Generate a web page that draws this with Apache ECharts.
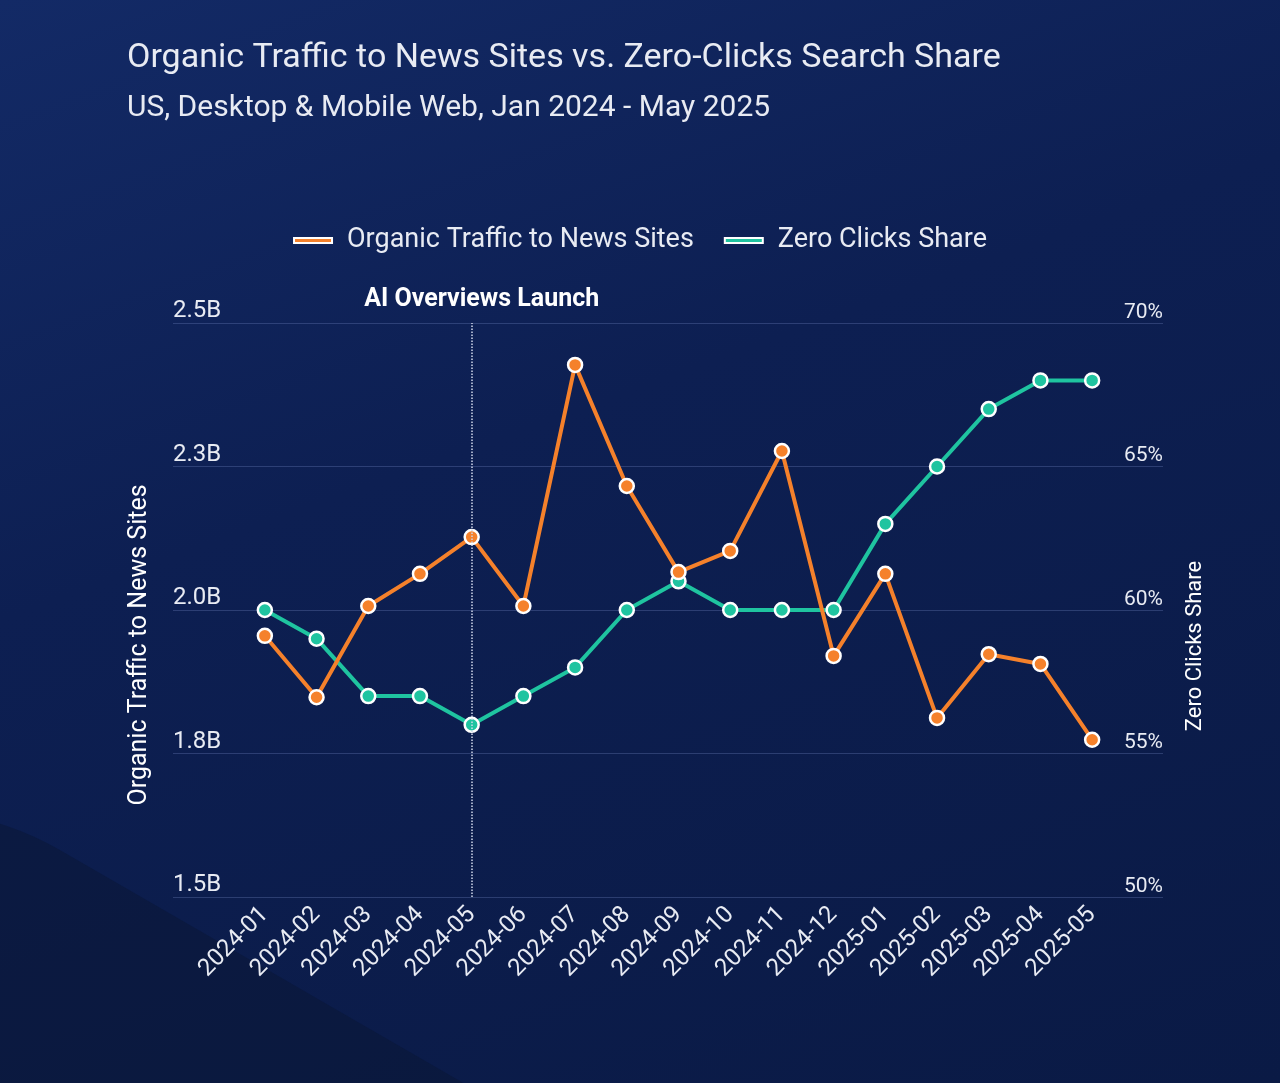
<!DOCTYPE html>
<html><head><meta charset="utf-8">
<script src="https://cdn.jsdelivr.net/npm/echarts@6/dist/echarts.min.js"></script>
<style>
html,body{margin:0;padding:0;}
body{width:1280px;height:1083px;background:linear-gradient(160deg,#132a66 0%,#0d1f52 40%,#0a1a45 100%);position:relative;overflow:hidden;}
#shade{position:absolute;left:-200px;top:700px;width:1000px;height:900px;background:#0a1533;transform:rotate(30deg);transform-origin:0 0;opacity:0.5;border-radius:300px 0 0 0;}
#c{position:absolute;left:0;top:0;width:1280px;height:1083px;}
</style></head><body>
<div id="shade"></div>
<div id="c"></div>
<script>
const categories=['2024-01','2024-02','2024-03','2024-04','2024-05','2024-06','2024-07','2024-08','2024-09','2024-10','2024-11','2024-12','2025-01','2025-02','2025-03','2025-04','2025-05'];
const organicTraffic=[1.955,1.848,2.007,2.063,2.127,2.007,2.427,2.216,2.066,2.103,2.277,1.92,2.063,1.812,1.923,1.906,1.774];
const zeroClicks=[60,59,57,57,56,57,58,60,61,60,60,60,63,65,67,68,68];
const launchMonth='2024-05';
const ORANGE='#f5812b',GREEN='#1fc4a0',TXT='#e8ebf3',FONT='Roboto';
const chart=echarts.init(document.getElementById('c'),null,{renderer:'canvas'});
const sym={symbol:'circle',symbolSize:14,itemStyle:{borderColor:'#fff',borderWidth:2.5},lineStyle:{width:4}};
chart.setOption({
  backgroundColor:'transparent',
  textStyle:{fontFamily:FONT},
  title:[{text:'Organic Traffic to News Sites vs. Zero-Clicks Search Share',left:122,top:36,textStyle:{color:TXT,fontSize:34,fontWeight:'normal',fontFamily:FONT}},
         {text:'US, Desktop & Mobile Web, Jan 2024 - May 2025',left:122,top:88,textStyle:{color:TXT,fontSize:30,fontWeight:'normal',fontFamily:FONT}}],
  legend:{top:222,left:'center',itemWidth:38,itemHeight:5,itemGap:30,icon:'rect',textStyle:{color:TXT,fontSize:27,fontFamily:FONT,padding:[0,0,0,10]},data:['Organic Traffic to News Sites','Zero Clicks Share']},
  grid:[{left:239,right:162,top:323,bottom:186},{left:173,right:117,top:323,bottom:186}],
  xAxis:[{type:'category',gridIndex:0,data:categories,boundaryGap:true,axisLine:{show:false},axisTick:{show:false},
          axisLabel:{color:TXT,fontSize:24,rotate:45,interval:0,margin:14,fontFamily:FONT}},
         {type:'category',gridIndex:1,data:categories,show:false}],
  yAxis:[{type:'value',gridIndex:0,min:1.5,max:2.5,interval:0.25,show:false,splitLine:{show:false}},
         {type:'value',gridIndex:0,min:50,max:70,interval:5,show:false,splitLine:{show:false}},
         {type:'value',gridIndex:1,min:1.5,max:2.5,interval:0.25,position:'left',axisLine:{show:false},axisTick:{show:false},
          axisLabel:{inside:true,verticalAlign:'bottom',margin:0,color:TXT,fontSize:24,fontFamily:FONT,formatter:v=>v.toFixed(1)+'B'},
          splitLine:{lineStyle:{color:'rgba(120,140,200,0.3)',width:1}}},
         {type:'value',gridIndex:1,min:50,max:70,interval:5,position:'right',axisLine:{show:false},axisTick:{show:false},
          axisLabel:{inside:true,verticalAlign:'bottom',margin:0,color:TXT,fontSize:21,fontFamily:FONT,formatter:v=>v+'%'},
          splitLine:{show:false}}],
  graphic:[
    {type:'text',rotation:Math.PI/2,x:140,y:645,style:{text:'Organic Traffic to News Sites',fill:'#fff',fontSize:25,fontFamily:FONT,textAlign:'center',textVerticalAlign:'middle'}},
    {type:'text',rotation:Math.PI/2,x:1195,y:646,style:{text:'Zero Clicks Share',fill:'#fff',fontSize:22,fontFamily:FONT,textAlign:'center',textVerticalAlign:'middle'}}
  ],
  series:[
    Object.assign({name:'Organic Traffic to News Sites',type:'line',xAxisIndex:0,yAxisIndex:0,data:organicTraffic,color:ORANGE,z:3,
      markLine:{silent:true,symbol:'none',lineStyle:{color:'#cfd6ea',type:'dotted',width:1.5},
        label:{show:true,position:'end',formatter:'AI Overviews Launch',color:'#fff',fontSize:25,fontWeight:'bold',fontFamily:FONT,distance:[0,10],offset:[10,-1]},
        data:[[{xAxis:launchMonth,yAxis:1.5},{xAxis:launchMonth,yAxis:2.5}]]}},sym),
    Object.assign({name:'Zero Clicks Share',type:'line',xAxisIndex:0,yAxisIndex:1,data:zeroClicks,color:GREEN,z:2},sym)
  ]
});
</script></body></html>
